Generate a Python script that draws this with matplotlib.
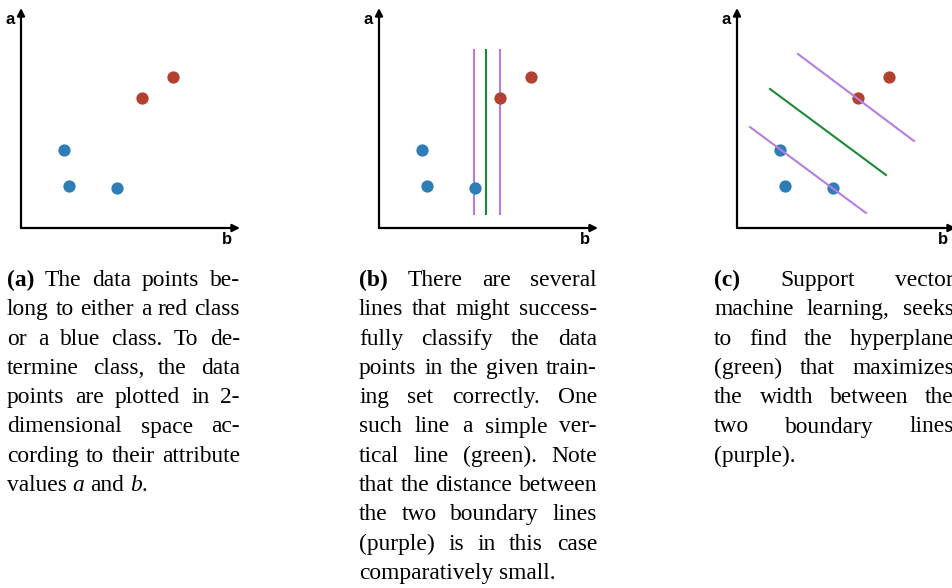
import matplotlib
matplotlib.use('Agg')
import matplotlib.pyplot as plt

W, H = 953, 588

# data points (b, a), measured from the axis corner
blue_b = [43, 48, 96]
blue_a = [78, 42, 40]
red_b = [121, 152]
red_a = [130, 151]

# panel (b): vertical separators
vert_x = [95, 107, 121]
vert_y = [14, 178]
vert_kind = ['margin', 'plane', 'margin']

# panel (c): max-margin separator and its boundaries
svm_b = [[61, 177], [33, 149], [13, 129]]
svm_a = [[174, 87], [139, 53], [101, 15]]
svm_kind = ['margin', 'plane', 'margin']

# *x* marks italic
captions = [
    ["(a) The data points be-",
     "long to either a red class",
     "or a blue class. To de-",
     "termine class, the data",
     "points are plotted in 2-",
     "dimensional space ac-",
     "cording to their attribute",
     "values *a* and *b*."],
    ["(b) There are several",
     "lines that might success-",
     "fully classify the data",
     "points in the given train-",
     "ing set correctly. One",
     "such line a simple ver-",
     "tical line (green). Note",
     "that the distance between",
     "the two boundary lines",
     "(purple) is in this case",
     "comparatively small."],
    ["(c) Support vector",
     "machine learning, seeks",
     "to find the hyperplane",
     "(green) that maximizes",
     "the width between the",
     "two boundary lines",
     "(purple)."],
]
cap_x = [(7, 240), (359, 597), (714, 954)]

BLUE = '#2f7db6'
RED = '#b3412f'
GREEN = '#1b8a35'
PURPLE = '#b57ee0'
line_col = {'margin': PURPLE, 'plane': GREEN}

fig = plt.figure(figsize=(W / 100, H / 100), dpi=100)

origins = [21, 379, 737]
oy = 228
axes = []
for ox in origins:
    ax = fig.add_axes([(ox - 25) / W, (H - 250) / H, 250 / W, 250 / H])
    ax.set_xlim(-25, 225)
    ax.set_ylim(oy - 250, oy)
    ax.axis('off')
    arrow = dict(arrowstyle='-|>', color='black', lw=1.6, mutation_scale=11,
                 shrinkA=0, shrinkB=0)
    ax.annotate('', xy=(0, 220), xytext=(0, 0), arrowprops=arrow)
    ax.annotate('', xy=(219, 0), xytext=(0, 0), arrowprops=arrow)
    ax.text(-11, 208, 'a', ha='center', va='center', fontsize=12,
            weight='bold', family='Liberation Sans')
    ax.text(206, -11, 'b', ha='center', va='center', fontsize=12,
            weight='bold', family='Liberation Sans')
    axes.append(ax)

for i, ax in enumerate(axes):
    z = 3 if i < 2 else 1
    ax.scatter(blue_b, blue_a, s=78, color=BLUE, linewidths=0, zorder=z)
    ax.scatter(red_b, red_a, s=78, color=RED, linewidths=0, zorder=z)

for x, k in zip(vert_x, vert_kind):
    axes[1].plot([x, x], vert_y, color=line_col[k], lw=1.5, zorder=2)

for bb, aa, k in zip(svm_b, svm_a, svm_kind):
    axes[2].plot(bb, aa, color=line_col[k], lw=1.5, zorder=2)

# justified captions
FS = 16.9
space = 0.25 * FS * 100 / 72
renderer = fig.canvas.get_renderer()


def make_word(word, bold):
    # returns list of (text artist, width) pieces making one word
    if word.startswith('*'):
        end = word.index('*', 1)
        parts = [(word[1:end], 'italic'), (word[end + 1:], 'normal')]
    else:
        parts = [(word, 'normal')]
    pieces = []
    for s, style in parts:
        if not s:
            continue
        t = fig.text(0, 0, s, fontsize=FS, family='Liberation Serif',
                     weight='bold' if bold else 'normal', style=style,
                     va='baseline', ha='left')
        pieces.append((t, t.get_window_extent(renderer).width))
    return pieces


for (x0, x1), lines in zip(cap_x, captions):
    for i, line in enumerate(lines):
        y = 286 + i * 29.3
        words = [make_word(w, i == 0 and j == 0) for j, w in enumerate(line.split())]
        widths = [sum(p[1] for p in w) for w in words]
        if i == len(lines) - 1 or len(words) == 1:
            gap = space
        else:
            gap = (x1 - x0 - sum(widths)) / (len(words) - 1)
        x = x0
        for pieces, w in zip(words, widths):
            px = x
            for t, pw in pieces:
                t.set_position((px / W, 1 - y / H))
                px += pw
            x += w + gap

fig.savefig('out.png', dpi=100)
